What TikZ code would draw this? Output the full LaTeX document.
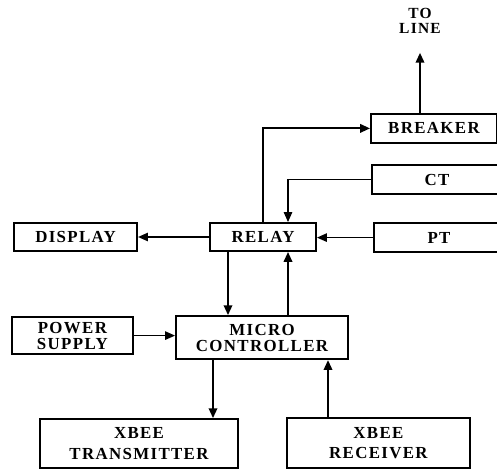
\documentclass[tikz,border=0pt]{standalone}
\usepackage{fontspec}
\usepackage{tikz}
\usetikzlibrary{arrows.meta,positioning}
\newfontfamily\blockfont{Liberation Serif}[LetterSpace=8]

\begin{document}
\begin{tikzpicture}[
    block/.style={draw=black, rectangle, inner sep=0pt, line width=1.4pt,
                  align=center, font=\blockfont\bfseries\fontsize{12}{11.5}\selectfont},
    wide/.style={block, font=\blockfont\bfseries\fontsize{12}{14.5}\selectfont},
    flow/.style={-{Triangle[length=7pt,width=6pt]}, line width=1.4pt},
    thinflow/.style={-{Triangle[length=7pt,width=6pt]}, line width=0.8pt}
]
\clip (0,0) rectangle (12.425,11.75);

% Top right: breaker and line
\node[font=\blockfont\bfseries\fontsize{11}{11}\selectfont, align=center] (toline) at (10.5,11.225) {TO\\LINE};
\node[block, minimum width=3.15cm, minimum height=0.725cm] (brk) at (10.85,8.54) {BREAKER};
\node[block, minimum width=3.25cm, minimum height=0.725cm] (ct) at (10.925,7.26) {CT};
\node[block, minimum width=3.25cm, minimum height=0.725cm] (pt) at (10.975,5.81) {PT};

% Middle row
\node[block, minimum width=2.65cm, minimum height=0.7cm] (relay) at (6.575,5.825) {RELAY};
\node[block, minimum width=3.075cm, minimum height=0.7cm] (disp) at (1.89,5.825) {DISPLAY};

% Controller row
\node[block, minimum width=4.3cm, minimum height=1.075cm] (mc) at (6.55,3.31) {MICRO\\CONTROLLER};
\node[block, minimum width=3.025cm, minimum height=0.925cm] (ps) at (1.81,3.36) {POWER\\SUPPLY};

% Bottom row: wireless modules
\node[wide, minimum width=4.95cm, minimum height=1.225cm] (tx) at (3.475,0.66) {XBEE\\TRANSMITTER};
\node[wide, minimum width=4.575cm, minimum height=1.25cm] (rx) at (9.46,0.675) {XBEE\\RECEIVER};

% Connections
\coordinate (linetip) at (10.5,10.43);
\draw[flow] (linetip |- brk.north) -- (linetip);
\draw[flow] (relay.north) |- (brk.west);
\draw[thinflow] (ct.west) -| ([xshift=0.625cm]relay.north);
\draw[thinflow] (pt.west) -- (pt.west -| relay.east);
\draw[thinflow] (relay.west) -- (disp.east);

\draw[flow] ([xshift=-0.875cm]relay.south) -- ([xshift=-0.875cm]relay.south |- mc.north);
\draw[flow] ([xshift=0.625cm]relay.south |- mc.north) -- ([xshift=0.625cm]relay.south);
\draw[thinflow] (ps.east) -- (ps.east -| mc.west);

\draw[flow] ([xshift=-1.225cm]mc.south) -- ([xshift=-1.225cm]mc.south |- tx.north);
\draw[flow] ([xshift=1.65cm]mc.south |- rx.north) -- ([xshift=1.65cm]mc.south);

\end{tikzpicture}
\end{document}
